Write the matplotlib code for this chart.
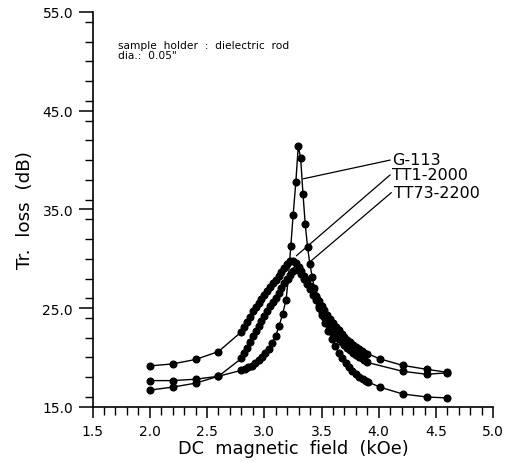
import matplotlib
matplotlib.use("Agg")
import matplotlib.pyplot as plt
from matplotlib.ticker import MultipleLocator, FormatStrFormatter

# ---- data ----
g113_x = [2.0, 2.2, 2.4, 2.6, 2.8, 2.83, 2.86, 2.89, 2.92, 2.95, 2.98, 3.01, 3.04,
          3.07, 3.10, 3.13, 3.16, 3.19, 3.21, 3.232, 3.252, 3.276, 3.297, 3.318,
          3.338, 3.358, 3.378, 3.398, 3.418, 3.438, 3.458, 3.48, 3.50, 3.53, 3.56,
          3.59, 3.62, 3.65, 3.68, 3.71, 3.74, 3.77, 3.80, 3.83, 3.86, 3.89, 3.91,
          4.01, 4.21, 4.42, 4.6]
g113_y = [16.7, 17.0, 17.4, 18.1, 18.7, 18.85, 19.0, 19.15, 19.4, 19.7, 20.1, 20.5, 20.9,
          21.5, 22.2, 23.2, 24.4, 25.8, 28.0, 31.3, 34.4, 37.8, 41.4, 40.2,
          36.6, 33.5, 31.2, 29.5, 28.2, 27.0, 25.9, 25.0, 24.3, 23.5, 22.7,
          21.9, 21.2, 20.5, 19.9, 19.4, 19.0, 18.6, 18.3, 18.0, 17.8, 17.6, 17.5,
          17.0, 16.3, 16.0, 15.9]

tt1_x = [2.0, 2.2, 2.4, 2.6, 2.8, 2.825, 2.85, 2.875, 2.9, 2.925, 2.95, 2.975, 3.0,
         3.025, 3.05, 3.075, 3.1, 3.125, 3.15, 3.175, 3.2, 3.225, 3.25, 3.275, 3.3,
         3.325, 3.35, 3.375, 3.4, 3.425, 3.45, 3.475, 3.5, 3.525, 3.55, 3.575, 3.6,
         3.625, 3.65, 3.675, 3.7, 3.725, 3.75, 3.775, 3.8, 3.825, 3.85, 3.875, 3.9,
         4.01, 4.21, 4.42, 4.6]
tt1_y = [19.15, 19.35, 19.8, 20.6, 22.6, 23.1, 23.6, 24.1, 24.7, 25.1, 25.5, 25.9, 26.3,
         26.7, 27.1, 27.5, 27.9, 28.3, 28.7, 29.1, 29.5, 29.8, 29.8, 29.6, 29.2,
         28.8, 28.3, 27.8, 27.2, 26.7, 26.2, 25.7, 25.2, 24.8, 24.3, 23.9, 23.5,
         23.1, 22.8, 22.4, 22.1, 21.8, 21.6, 21.3, 21.1, 20.9, 20.7, 20.5, 20.4,
         19.86, 19.2, 18.8, 18.5]

tt73_x = [2.0, 2.2, 2.4, 2.6, 2.8, 2.825, 2.85, 2.875, 2.9, 2.925, 2.95, 2.975, 3.0,
          3.025, 3.05, 3.075, 3.1, 3.125, 3.15, 3.175, 3.2, 3.225, 3.25, 3.275, 3.3,
          3.325, 3.35, 3.375, 3.4, 3.425, 3.45, 3.475, 3.5, 3.525, 3.55, 3.575, 3.6,
          3.625, 3.65, 3.675, 3.7, 3.725, 3.75, 3.775, 3.8, 3.825, 3.85, 3.875, 3.9,
          4.21, 4.42, 4.6]
tt73_y = [17.66, 17.66, 17.8, 18.1, 19.9, 20.5, 21.0, 21.6, 22.2, 22.7, 23.2, 23.7, 24.2,
          24.7, 25.2, 25.6, 26.0, 26.5, 27.0, 27.5, 28.0, 28.4, 28.8, 29.0, 28.9,
          28.5, 28.0, 27.4, 26.9, 26.3, 25.8, 25.2, 24.6, 24.1, 23.5, 23.0, 22.6,
          22.2, 21.9, 21.6, 21.3, 21.0, 20.8, 20.5, 20.3, 20.1, 19.9, 19.7, 19.5,
          18.6, 18.3, 18.45]

labels = ["G-113", "TT1-2000", "TT73-2200"]
x_ticks = [1.5, 2.0, 2.5, 3.0, 3.5, 4.0, 4.5, 5.0]
y_ticks = [15.0, 25.0, 35.0, 45.0, 55.0]

fig = plt.figure(figsize=(5.17, 4.64), dpi=100)
ax = fig.add_axes([0.179, 0.121, 0.775, 0.851])

for xs, ys in [(g113_x, g113_y), (tt1_x, tt1_y), (tt73_x, tt73_y)]:
    ax.plot(xs, ys, color="black", lw=1.0, marker="o", markersize=4.8,
            markerfacecolor="black", markeredgecolor="black")

ax.set_xlim(1.5, 5.0)
ax.set_ylim(15.0, 55.0)
ax.set_xticks(x_ticks)
ax.set_yticks(y_ticks)
ax.xaxis.set_minor_locator(MultipleLocator(0.1))
ax.yaxis.set_minor_locator(MultipleLocator(2.0))
ax.xaxis.set_major_formatter(FormatStrFormatter("%.1f"))
ax.yaxis.set_major_formatter(FormatStrFormatter("%.1f"))
ax.spines["top"].set_visible(False)
ax.spines["right"].set_visible(False)
for s in ["left", "bottom"]:
    ax.spines[s].set_linewidth(1.2)
ax.tick_params(axis="x", which="major", direction="out", length=8, width=1.1,
               labelsize=10, pad=4)
ax.tick_params(axis="y", which="major", direction="out", length=10, width=1.1,
               labelsize=10, pad=4)
ax.tick_params(axis="both", which="minor", direction="out", length=5.5, width=1.0)

ax.set_xlabel("DC  magnetic  field  (kOe)", fontsize=12.8, labelpad=1)
ax.set_ylabel("Tr.  loss  (dB)", fontsize=13.2, labelpad=6)

ax.text(0.063, 0.905, "sample  holder  :  dielectric  rod\ndia.:  0.05\"",
        transform=ax.transAxes, fontsize=7.7, va="center", ha="left", linespacing=1.0)

# leader lines with labels
ann = [(labels[0], (3.34, 38.1), (4.1, 40.0)),
       (labels[1], (3.28, 30.3), (4.1, 38.5)),
       (labels[2], (3.38, 29.5), (4.11, 36.7))]
for lab, xy, xyt in ann:
    ax.annotate("", xy=xy, xytext=xyt,
                arrowprops=dict(arrowstyle="-", color="black", lw=0.9,
                                shrinkA=0, shrinkB=0))
    ax.text(xyt[0] + 0.02, xyt[1] + 0.05, lab, fontsize=11.5, va="center", ha="left")

fig.savefig("out.png", dpi=100)
